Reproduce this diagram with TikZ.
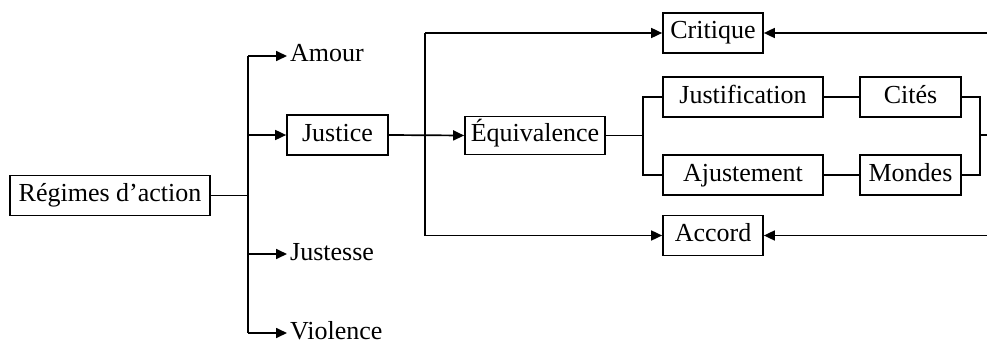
\documentclass[tikz,border=0pt]{standalone}
\usepackage{fontspec}
\setmainfont{Liberation Serif}
\usetikzlibrary{arrows.meta}
\begin{document}
\begin{tikzpicture}[x=1pt,y=-1pt,
  box/.style={draw,line width=1.7pt,inner sep=0pt,minimum height=40pt,anchor=center},
  lbl/.style={inner sep=0pt,anchor=west},
  ln/.style={line width=1.7pt},
  arr/.style={line width=1.7pt,-{Triangle[length=11pt,width=10pt]}},
  every node/.style={font=\fontsize{26}{30}\selectfont,text height=17pt,text depth=5pt}]
\useasboundingbox (0,0) rectangle (987,345);
% nodes
\node[box,minimum width=200pt] (reg) at (110,195.5) {Régimes d’action};
\node[lbl] (amour) at (290,56) {Amour};
\node[box,minimum width=101pt] (justice) at (337.5,135) {Justice};
\node[lbl] (justesse) at (290,254) {Justesse};
\node[lbl] (violence) at (290,333) {Violence};
\node[box,minimum width=140pt,minimum height=38pt] (equiv) at (535,135.5) {Équivalence};
\node[box,minimum width=100pt] (critique) at (713,33) {Critique};
\node[box,minimum width=100pt] (accord) at (713,235.5) {Accord};
\node[box,minimum width=160pt] (justif) at (743,97) {Justification};
\node[box,minimum width=160pt] (ajust) at (743,175) {Ajustement};
\node[box,minimum width=101pt] (cites) at (910.5,97) {Cités};
\node[box,minimum width=101pt] (mondes) at (910.5,175) {Mondes};
% junction coordinates
\coordinate (j1) at (248,195.5);
\coordinate (j2) at (425,135);
\coordinate (j3) at (643,135.5);
\coordinate (j4) at (980,135);
\coordinate (e1) at (987,135);
\coordinate (e2) at (987,33);
\coordinate (e3) at (987,235.5);
% left tree
\draw[ln] (reg.east) -- (j1);
\draw[ln] (j1 |- amour.west) -- (j1 |- violence.west);
\draw[arr] (j1 |- amour.west) -- ([xshift=-3pt]amour.west);
\draw[arr] (j1 |- justice.west) -- (justice.west);
\draw[arr] (j1 |- justesse.west) -- ([xshift=-3pt]justesse.west);
\draw[arr] (j1 |- violence.west) -- ([xshift=-3pt]violence.west);
% justice to equivalence
\draw[arr] (justice.east) -- (equiv.west);
\draw[ln] (j2 |- critique.west) -- (j2 |- accord.west);
\draw[arr] (j2 |- critique.west) -- (critique.west);
\draw[arr] (j2 |- accord.west) -- (accord.west);
% equivalence branches
\draw[ln] (equiv.east) -- (j3);
\draw[ln] (justif.west) -| (j3) |- (ajust.west);
\draw[ln] (justif.east) -- (cites.west);
\draw[ln] (ajust.east) -- (mondes.west);
\draw[ln] (cites.east) -| (j4) |- (mondes.east);
\draw[ln] (j4) -- (e1);
% returns
\draw[arr] (e2) -- (critique.east);
\draw[arr] (e3) -- (accord.east);
\end{tikzpicture}
\end{document}
